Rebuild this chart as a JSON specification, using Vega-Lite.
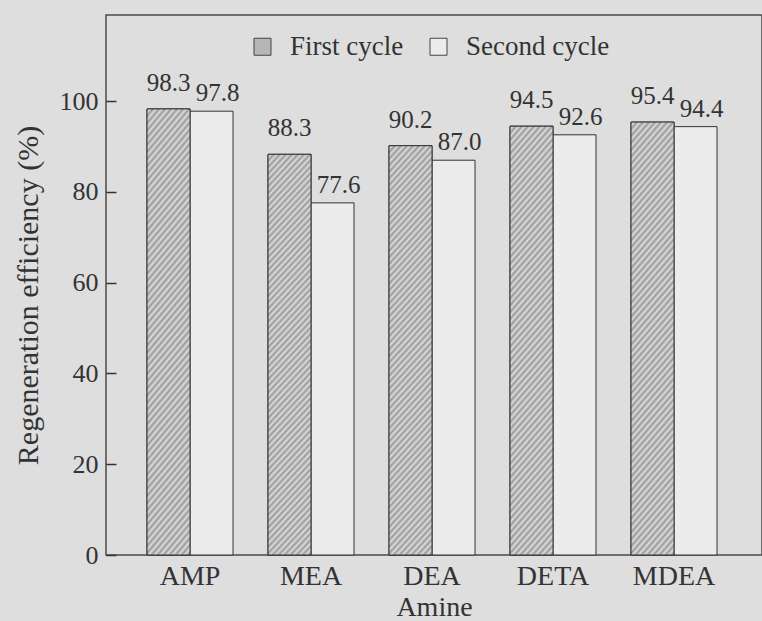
{
  "$schema": "https://vega.github.io/schema/vega-lite/v6.json",
  "width": 656,
  "height": 540,
  "autosize": {"type": "none"},
  "padding": {"left": 106, "top": 15, "right": 0, "bottom": 66},
  "background": "#dedede",
  "config": {
    "view": {"stroke": "#4a4a4a", "strokeWidth": 1.5, "fill": null},
    "font": "Liberation Serif",
    "text": {"font": "Liberation Serif", "color": "#333"},
    "legend": {"labelFont": "Liberation Serif"},
    "axis": {"labelFont": "Liberation Serif", "titleFont": "Liberation Serif"}
  },
  "data": {
    "values": [
      {"amine": "AMP", "cycle": "First cycle", "value": 98.3},
      {"amine": "AMP", "cycle": "Second cycle", "value": 97.8},
      {"amine": "MEA", "cycle": "First cycle", "value": 88.3},
      {"amine": "MEA", "cycle": "Second cycle", "value": 77.6},
      {"amine": "DEA", "cycle": "First cycle", "value": 90.2},
      {"amine": "DEA", "cycle": "Second cycle", "value": 87.0},
      {"amine": "DETA", "cycle": "First cycle", "value": 94.5},
      {"amine": "DETA", "cycle": "Second cycle", "value": 92.6},
      {"amine": "MDEA", "cycle": "First cycle", "value": 95.4},
      {"amine": "MDEA", "cycle": "Second cycle", "value": 94.4}
    ]
  },
  "encoding": {
    "x": {
      "field": "amine", "type": "nominal",
      "sort": ["AMP", "MEA", "DEA", "DETA", "MDEA"],
      "scale": {"paddingInner": 0.2893, "paddingOuter": 0.3554, "align": 0.477},
      "title": "Amine",
      "axis": {
        "domain": false, "ticks": false, "grid": false, "labelAngle": 0,
        "labelFontSize": 28, "labelColor": "#333", "labelPadding": 7,
        "titleFontSize": 28, "titleColor": "#333", "titleFontWeight": "normal", "titlePadding": 3
      }
    },
    "xOffset": {"field": "cycle", "type": "nominal", "sort": ["First cycle", "Second cycle"]},
    "y": {
      "field": "value", "type": "quantitative",
      "scale": {"domain": [0, 119], "nice": false},
      "title": "Regeneration efficiency (%)",
      "axis": {
        "values": [0, 20, 40, 60, 80, 100],
        "domain": false, "ticks": false, "tickSize": 0,
        "grid": true, "gridColor": "#333", "gridWidth": 1.5, "gridOpacity": 1, "gridDash": [10, 2000],
        "labelFontSize": 26, "labelColor": "#333", "labelPadding": 8,
        "titleFontSize": 30, "titleColor": "#333", "titleFontWeight": "normal", "titlePadding": 16, "titleY": 280
      }
    }
  },
  "layer": [
    {
      "mark": {"type": "bar", "stroke": "#333", "strokeWidth": 1},
      "encoding": {
        "fill": {
          "field": "cycle", "type": "nominal",
          "scale": {"domain": ["First cycle", "Second cycle"], "range": ["#b6b6b6", "#ececec"]},
          "legend": {
            "orient": "none", "legendX": 143, "legendY": 18, "direction": "horizontal",
            "title": null, "symbolType": "square", "symbolSize": 289,
            "symbolStrokeColor": "#444", "symbolStrokeWidth": 1,
            "labelFont": "Liberation Serif",
            "labelFontSize": 27, "labelColor": "#333", "labelOffset": 14, "columnPadding": 21
          }
        }
      }
    },
    {
      "transform": [{"filter": "datum.cycle === 'First cycle'"}],
      "mark": {
        "type": "bar", "stroke": "#333", "strokeWidth": 1,
        "fill": {
          "gradient": "linear", "x1": 0, "y1": 0, "x2": 0.1275, "y2": 1.11,
          "stops": [
            {"offset": 0, "color": "#999"}, {"offset": 0.0071, "color": "#ddd"},
            {"offset": 0.0143, "color": "#999"}, {"offset": 0.0214, "color": "#ddd"},
            {"offset": 0.0286, "color": "#999"}, {"offset": 0.0357, "color": "#ddd"},
            {"offset": 0.0429, "color": "#999"}, {"offset": 0.05, "color": "#ddd"},
            {"offset": 0.0571, "color": "#999"}, {"offset": 0.0643, "color": "#ddd"},
            {"offset": 0.0714, "color": "#999"}, {"offset": 0.0786, "color": "#ddd"},
            {"offset": 0.0857, "color": "#999"}, {"offset": 0.0929, "color": "#ddd"},
            {"offset": 0.1, "color": "#999"}, {"offset": 0.1071, "color": "#ddd"},
            {"offset": 0.1143, "color": "#999"}, {"offset": 0.1214, "color": "#ddd"},
            {"offset": 0.1286, "color": "#999"}, {"offset": 0.1357, "color": "#ddd"},
            {"offset": 0.1429, "color": "#999"}, {"offset": 0.15, "color": "#ddd"},
            {"offset": 0.1571, "color": "#999"}, {"offset": 0.1643, "color": "#ddd"},
            {"offset": 0.1714, "color": "#999"}, {"offset": 0.1786, "color": "#ddd"},
            {"offset": 0.1857, "color": "#999"}, {"offset": 0.1929, "color": "#ddd"},
            {"offset": 0.2, "color": "#999"}, {"offset": 0.2071, "color": "#ddd"},
            {"offset": 0.2143, "color": "#999"}, {"offset": 0.2214, "color": "#ddd"},
            {"offset": 0.2286, "color": "#999"}, {"offset": 0.2357, "color": "#ddd"},
            {"offset": 0.2429, "color": "#999"}, {"offset": 0.25, "color": "#ddd"},
            {"offset": 0.2571, "color": "#999"}, {"offset": 0.2643, "color": "#ddd"},
            {"offset": 0.2714, "color": "#999"}, {"offset": 0.2786, "color": "#ddd"},
            {"offset": 0.2857, "color": "#999"}, {"offset": 0.2929, "color": "#ddd"},
            {"offset": 0.3, "color": "#999"}, {"offset": 0.3071, "color": "#ddd"},
            {"offset": 0.3143, "color": "#999"}, {"offset": 0.3214, "color": "#ddd"},
            {"offset": 0.3286, "color": "#999"}, {"offset": 0.3357, "color": "#ddd"},
            {"offset": 0.3429, "color": "#999"}, {"offset": 0.35, "color": "#ddd"},
            {"offset": 0.3571, "color": "#999"}, {"offset": 0.3643, "color": "#ddd"},
            {"offset": 0.3714, "color": "#999"}, {"offset": 0.3786, "color": "#ddd"},
            {"offset": 0.3857, "color": "#999"}, {"offset": 0.3929, "color": "#ddd"},
            {"offset": 0.4, "color": "#999"}, {"offset": 0.4071, "color": "#ddd"},
            {"offset": 0.4143, "color": "#999"}, {"offset": 0.4214, "color": "#ddd"},
            {"offset": 0.4286, "color": "#999"}, {"offset": 0.4357, "color": "#ddd"},
            {"offset": 0.4429, "color": "#999"}, {"offset": 0.45, "color": "#ddd"},
            {"offset": 0.4571, "color": "#999"}, {"offset": 0.4643, "color": "#ddd"},
            {"offset": 0.4714, "color": "#999"}, {"offset": 0.4786, "color": "#ddd"},
            {"offset": 0.4857, "color": "#999"}, {"offset": 0.4929, "color": "#ddd"},
            {"offset": 0.5, "color": "#999"}, {"offset": 0.5071, "color": "#ddd"},
            {"offset": 0.5143, "color": "#999"}, {"offset": 0.5214, "color": "#ddd"},
            {"offset": 0.5286, "color": "#999"}, {"offset": 0.5357, "color": "#ddd"},
            {"offset": 0.5429, "color": "#999"}, {"offset": 0.55, "color": "#ddd"},
            {"offset": 0.5571, "color": "#999"}, {"offset": 0.5643, "color": "#ddd"},
            {"offset": 0.5714, "color": "#999"}, {"offset": 0.5786, "color": "#ddd"},
            {"offset": 0.5857, "color": "#999"}, {"offset": 0.5929, "color": "#ddd"},
            {"offset": 0.6, "color": "#999"}, {"offset": 0.6071, "color": "#ddd"},
            {"offset": 0.6143, "color": "#999"}, {"offset": 0.6214, "color": "#ddd"},
            {"offset": 0.6286, "color": "#999"}, {"offset": 0.6357, "color": "#ddd"},
            {"offset": 0.6429, "color": "#999"}, {"offset": 0.65, "color": "#ddd"},
            {"offset": 0.6571, "color": "#999"}, {"offset": 0.6643, "color": "#ddd"},
            {"offset": 0.6714, "color": "#999"}, {"offset": 0.6786, "color": "#ddd"},
            {"offset": 0.6857, "color": "#999"}, {"offset": 0.6929, "color": "#ddd"},
            {"offset": 0.7, "color": "#999"}, {"offset": 0.7071, "color": "#ddd"},
            {"offset": 0.7143, "color": "#999"}, {"offset": 0.7214, "color": "#ddd"},
            {"offset": 0.7286, "color": "#999"}, {"offset": 0.7357, "color": "#ddd"},
            {"offset": 0.7429, "color": "#999"}, {"offset": 0.75, "color": "#ddd"},
            {"offset": 0.7571, "color": "#999"}, {"offset": 0.7643, "color": "#ddd"},
            {"offset": 0.7714, "color": "#999"}, {"offset": 0.7786, "color": "#ddd"},
            {"offset": 0.7857, "color": "#999"}, {"offset": 0.7929, "color": "#ddd"},
            {"offset": 0.8, "color": "#999"}, {"offset": 0.8071, "color": "#ddd"},
            {"offset": 0.8143, "color": "#999"}, {"offset": 0.8214, "color": "#ddd"},
            {"offset": 0.8286, "color": "#999"}, {"offset": 0.8357, "color": "#ddd"},
            {"offset": 0.8429, "color": "#999"}, {"offset": 0.85, "color": "#ddd"},
            {"offset": 0.8571, "color": "#999"}, {"offset": 0.8643, "color": "#ddd"},
            {"offset": 0.8714, "color": "#999"}, {"offset": 0.8786, "color": "#ddd"},
            {"offset": 0.8857, "color": "#999"}, {"offset": 0.8929, "color": "#ddd"},
            {"offset": 0.9, "color": "#999"}, {"offset": 0.9071, "color": "#ddd"},
            {"offset": 0.9143, "color": "#999"}, {"offset": 0.9214, "color": "#ddd"},
            {"offset": 0.9286, "color": "#999"}, {"offset": 0.9357, "color": "#ddd"},
            {"offset": 0.9429, "color": "#999"}, {"offset": 0.95, "color": "#ddd"},
            {"offset": 0.9571, "color": "#999"}, {"offset": 0.9643, "color": "#ddd"},
            {"offset": 0.9714, "color": "#999"}, {"offset": 0.9786, "color": "#ddd"},
            {"offset": 0.9857, "color": "#999"}, {"offset": 0.9929, "color": "#ddd"},
            {"offset": 1, "color": "#999"}
          ]
        }
      }
    },
    {
      "transform": [{"filter": "datum.cycle === 'First cycle'"}],
      "mark": {"type": "text", "font": "Liberation Serif", "fontSize": 25, "baseline": "middle", "dy": -26, "color": "#333"},
      "encoding": {"text": {"field": "value", "type": "quantitative", "format": ".1f"}}
    },
    {
      "transform": [{"filter": "datum.cycle === 'Second cycle'"}],
      "mark": {"type": "text", "font": "Liberation Serif", "fontSize": 25, "baseline": "middle", "dy": -18, "dx": 6, "color": "#333"},
      "encoding": {"text": {"field": "value", "type": "quantitative", "format": ".1f"}}
    }
  ]
}
